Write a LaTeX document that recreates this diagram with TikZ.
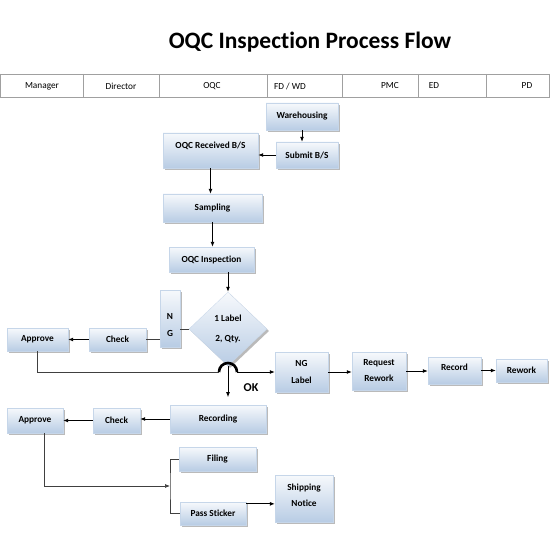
\documentclass[tikz,border=0pt]{standalone}
\usepackage{fontspec}
\setmainfont[Ligatures=NoCommon]{Carlito}
\usetikzlibrary{arrows.meta,shapes.geometric,shadows}
\definecolor{boxblue}{RGB}{184,204,228}
\definecolor{linegray}{RGB}{160,160,160}
\begin{document}
\begin{tikzpicture}[x=1pt,y=-1pt,
  btext/.style={font=\fontsize{9.3}{10.5}\selectfont\bfseries},
  box/.style={btext, inner sep=0pt, top color=boxblue!12, bottom color=boxblue,
    draw=boxblue!80, line width=0.3pt, align=center,
    drop shadow={shadow xshift=2pt, shadow yshift=-2pt, fill=black!45, opacity=0.6}},
  arr/.style={-{Latex[length=5pt,width=4pt]}, line width=0.9pt, black},
  conn/.style={line width=0.7pt, black!75},
  arrg/.style={conn, -{Latex[length=5pt,width=4pt]}},
  hdr/.style={font=\fontsize{9.3}{10.5}\selectfont}]
\useasboundingbox (0,0) rectangle (550,535);
\fill[white] (0,0) rectangle (550,535);

% title
\node[font=\fontsize{23.5}{26}\selectfont\bfseries] (title) at (310,42) {OQC Inspection Process Flow};

% header table
\draw[linegray, line width=0.8pt] (0,74) -- (550,74) (0,97) -- (550,97);
\foreach \xx in {0.5,83,159,267,342,418,486,549.5}
  \draw[linegray, line width=0.8pt] (\xx,74) -- (\xx,97);
\node[hdr] (hManager) at (42,86) {Manager};
\node[hdr] (hDirector) at (121,86) {Director};
\node[hdr] (hOQC) at (212,86) {OQC};
\node[hdr] (hFD) at (290,86) {FD / WD};
\node[hdr] (hPMC) at (390,86) {PMC};
\node[hdr] (hED) at (434,86) {ED};
\node[hdr] (hPD) at (527,86) {PD};

% boxes
\node[box, minimum width=72, minimum height=27] (wh) at (302,116.5) {Warehousing};
\node[box, minimum width=62, minimum height=26] (sub) at (307,155) {Submit B/S};
\node[box, minimum width=95, minimum height=35,
  label={[btext,yshift=4.5pt]center:OQC Received B/S}] (recv) at (210.5,150.5) {};
\node[box, minimum width=99, minimum height=28] (samp) at (212.5,208) {Sampling};
\node[box, minimum width=85, minimum height=25] (insp) at (211.5,259.5) {OQC Inspection};
\node[box, shape=diamond, minimum width=78, minimum height=74,
  label={[btext,align=center]center:1 Label\\[9pt]2, Qty.}] (dia) at (228,329) {};
\node[box, minimum width=20, minimum height=57,
  label={[btext,align=center,yshift=-6.5pt]center:N\\[6pt]G}] (ng) at (170,318.5) {};
\node[box, minimum width=57, minimum height=23] (chkA) at (117.5,339.5) {Check};
\node[box, minimum width=61, minimum height=23] (appA) at (37.5,339.5) {Approve};
\node[box, minimum width=53, minimum height=40] (ngl) at (301.5,372) {NG\\[6pt]Label};
\node[box, minimum width=54, minimum height=38] (req) at (379,371) {Request\\[5.5pt]Rework};
\node[box, minimum width=53, minimum height=27,
  label={[btext,yshift=3.5pt]center:Record}] (rec) at (454.5,370.5) {};
\node[box, minimum width=51, minimum height=23] (rew) at (521.5,370.5) {Rework};
\node[box, minimum width=96, minimum height=28] (rcd) at (218,419) {Recording};
\node[box, minimum width=47, minimum height=25] (chkB) at (116.5,420.5) {Check};
\node[box, minimum width=56, minimum height=25] (appB) at (35,420.5) {Approve};
\node[box, minimum width=77, minimum height=24] (fil) at (217.5,459) {Filing};
\node[box, minimum width=66, minimum height=23] (pas) at (213,513.5) {Pass Sticker};
\node[box, minimum width=58, minimum height=47,
  label={[btext,align=center,yshift=3.5pt]center:Shipping\\[5.5pt]Notice}] (shp) at (304,498.5) {};

% connectors
\draw[arr] (wh.south) -- (wh.south |- sub.north);
\draw[arr] (sub.west) -- (sub.west -| recv.east);
\draw[arr] (recv.south) -- (recv.south |- samp.north);
\draw[arr] (samp.south) -- (samp.south |- insp.north);
\draw[arr] (insp.south -| dia.north) -- (dia.north);
\draw[conn] (dia.west) -- (dia.west -| ng.east);
\draw[conn] (ng.west |- chkA.east) -- (chkA.east);
\draw[arr] (chkA.west) -- (appA.east);

\coordinate (jC) at (dia.south |- ngl.west);
\coordinate (jL) at ([xshift=-9pt]jC);
\coordinate (jR) at ([xshift=9pt]jC);
\draw[conn] (appA.south) |- (jL);
\draw[line width=2.6pt] (jL) arc[start angle=180,end angle=0,radius=9pt];
\draw[arr] (jR) -- (ngl.west);
\coordinate (okend) at ([yshift=-31pt]dia.south);
\draw[arr] (dia.south) -- (okend);
\node[font=\fontsize{12}{13}\selectfont\bfseries] (ok) at (251,388) {OK};

\draw[arr] (ngl.east) -- (ngl.east -| req.west);
\draw[arr] (req.east) -- (req.east -| rec.west);
\draw[arr] (rec.east) -- (rec.east -| rew.west);

\draw[arr] (rcd.west) -- (rcd.west -| chkB.east);
\draw[arr] (chkB.west) -- (chkB.west -| appB.east);
\coordinate (br) at (170,486);
\draw[arrg] ([xshift=9pt]appB.south) |- (br);
\draw[conn] (fil.west) -| (br) |- (pas.west);
\draw[arr] ([yshift=-2pt]pas.north east) -- ([yshift=-2pt]pas.north east -| shp.west);
\end{tikzpicture}
\end{document}
